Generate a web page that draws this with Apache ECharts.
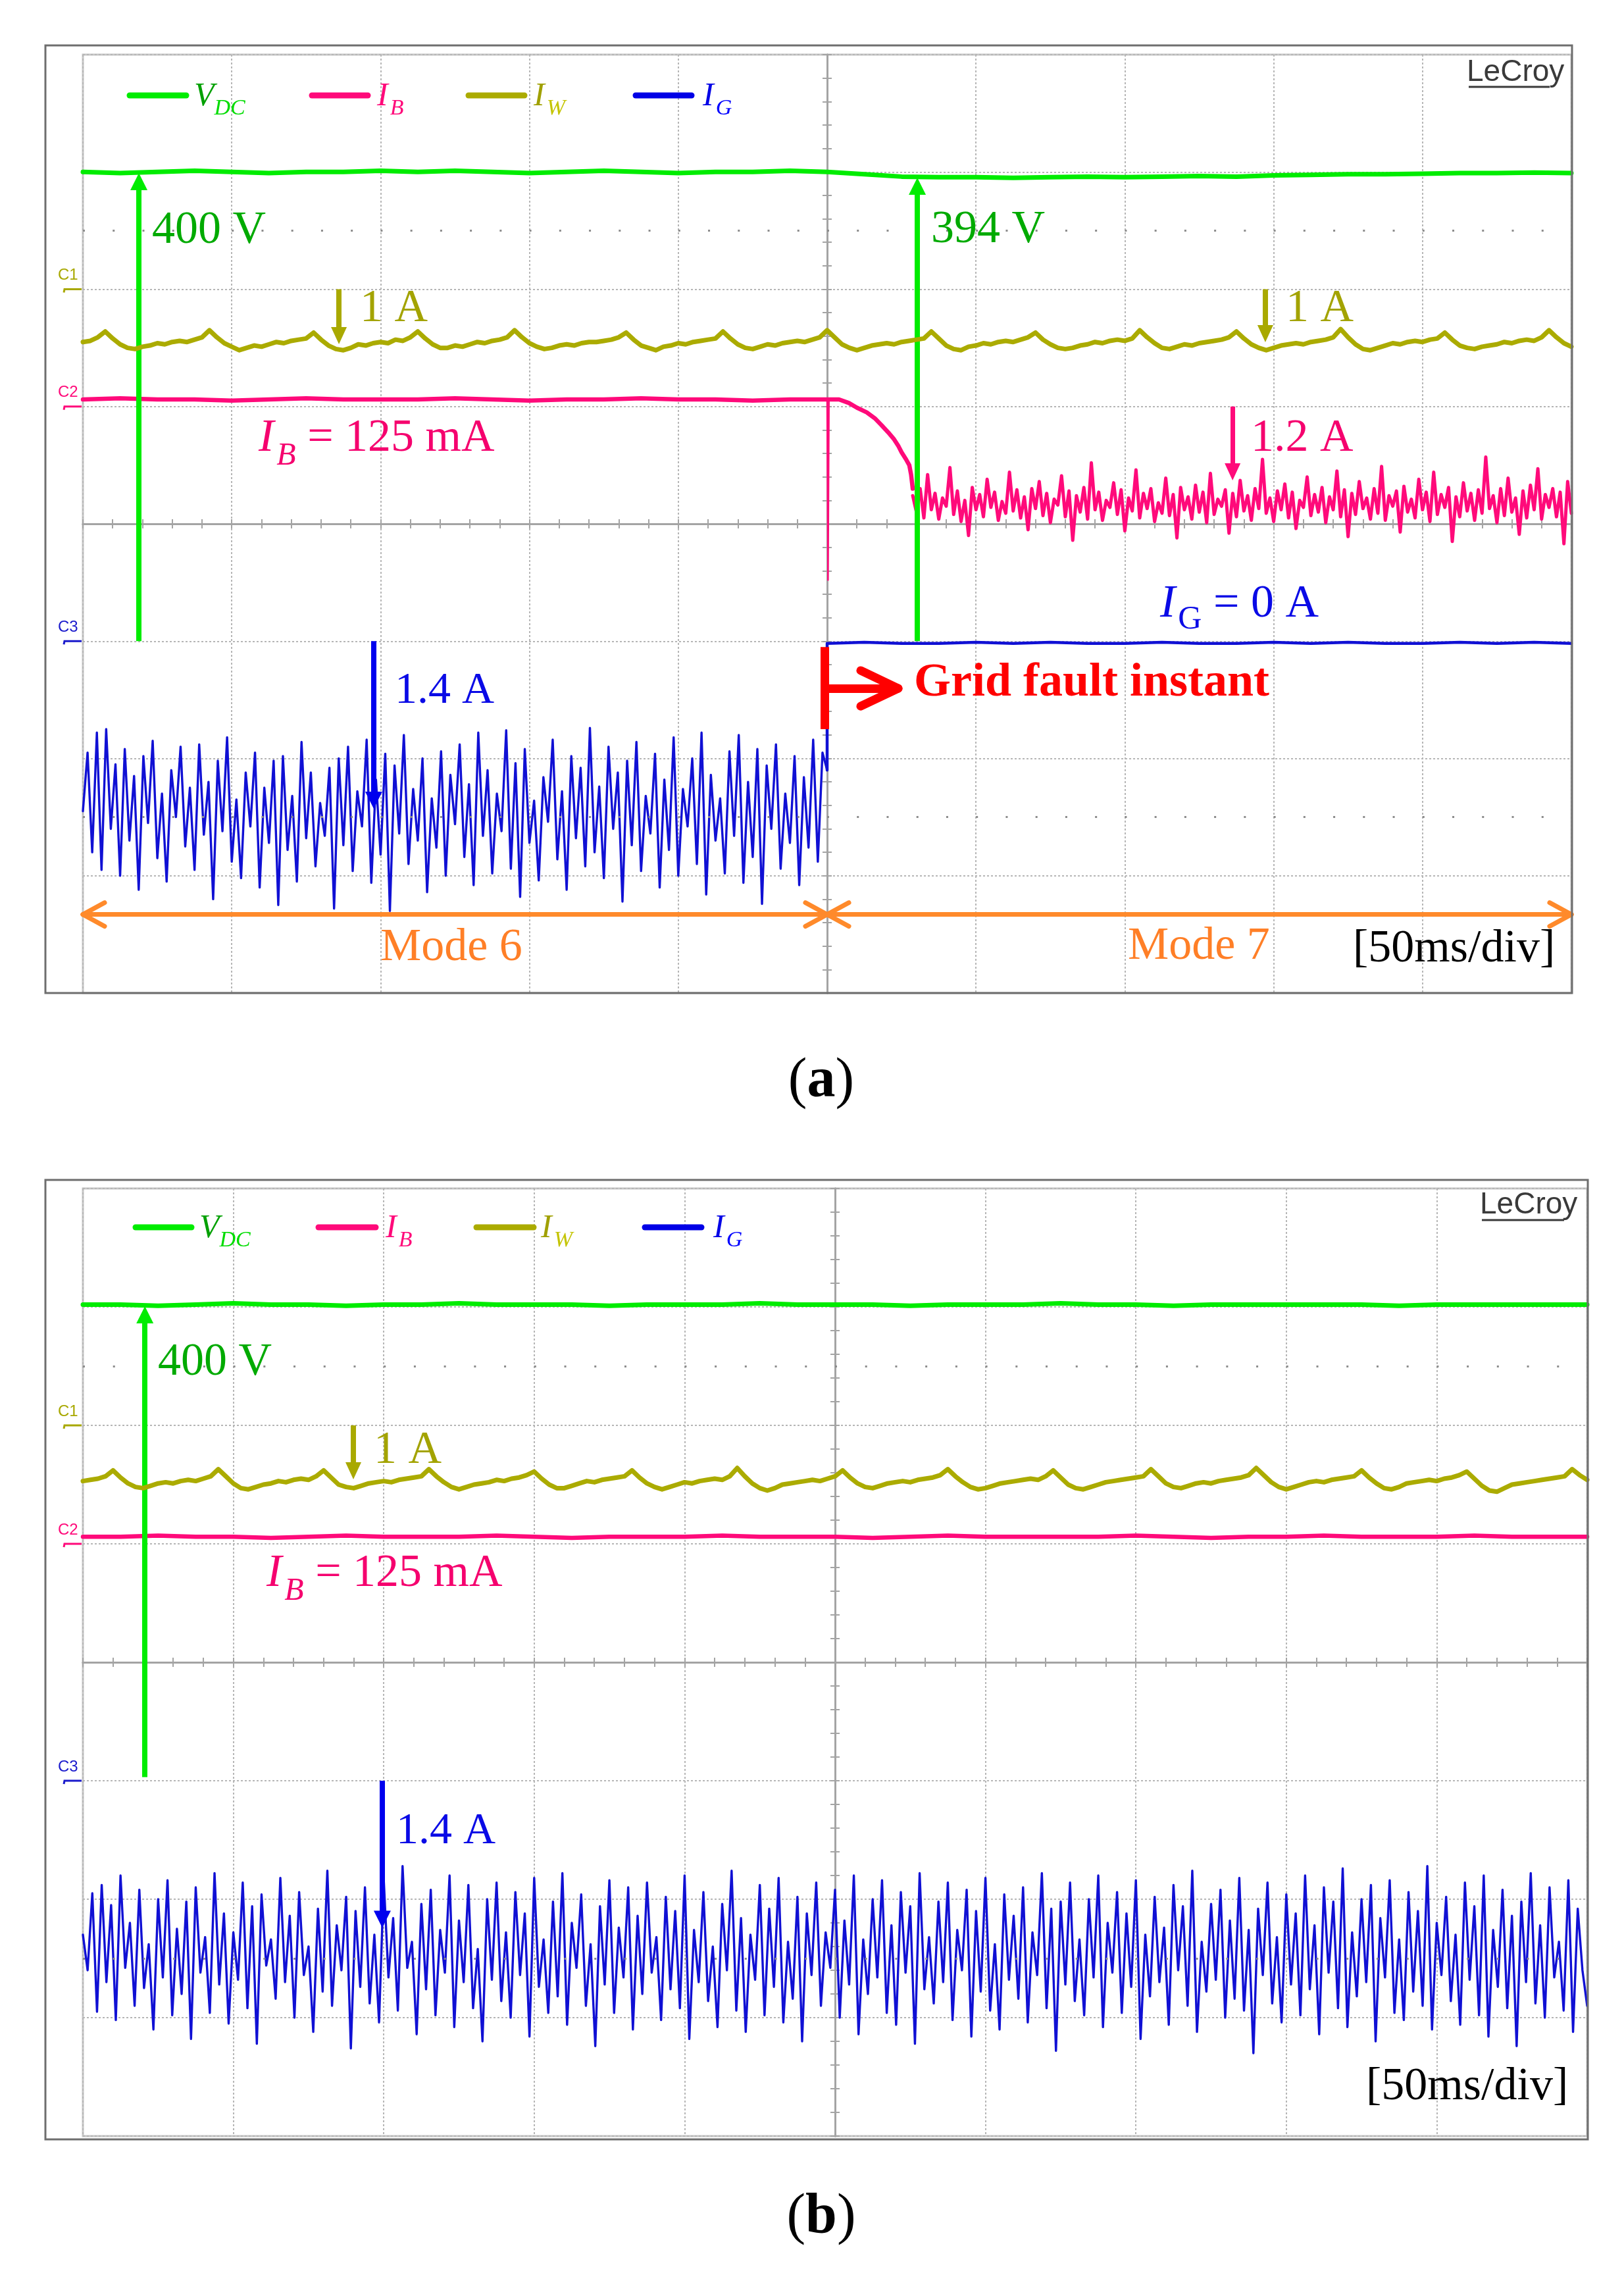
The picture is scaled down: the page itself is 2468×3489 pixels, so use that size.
<!DOCTYPE html>
<html><head><meta charset="utf-8">
<script src="https://cdn.jsdelivr.net/npm/echarts@6/dist/echarts.min.js"></script>
<style>html,body{margin:0;padding:0;background:#fff}#c{width:2468px;height:3489px}</style>
</head><body><div id="c"></div>
<script>
// ================= DATA (time in ms, amplitude in screen divisions) =================
const T_START = -250;          // left edge of screen, ms (50 ms/div, 10 div)
const DT_SLOW = 12.5;          // ms between samples for slow traces
const DT_IW = 2.5;             // ms between samples for I_W
const DT_IG = 1.5625;          // ms between samples for I_G
const DT_IBN = 1.25;           // ms between samples for I_B noise after fault
const IBA_NOISE_T0 = 28.75;    // ms, start of I_B noisy part in (a)

// ---- panel (a) ----
const vdcA = [3.00,2.99,3.00,3.01,3.00,2.99,3.00,3.00,3.01,3.00,3.01,3.00,2.99,3.00,3.01,3.00,2.99,3.00,3.00,3.01,3.00,
  2.98,2.96,2.955,2.955,2.95,2.955,2.96,2.955,2.96,2.965,2.96,2.97,2.975,2.98,2.98,2.985,2.99,2.99,2.995,2.99];

const iwA = [1.55,1.56,1.59,
  1.64,1.58,1.53,1.50,1.49,1.51,1.52,1.54,1.53,1.55,1.56,1.55,1.57,1.59,
  1.65,1.59,1.54,1.51,1.48,1.50,1.52,1.51,1.53,1.55,1.54,1.56,1.57,1.58,
  1.63,1.57,1.52,1.49,1.48,1.50,1.53,1.52,1.54,1.55,1.54,1.57,1.56,1.59,
  1.64,1.58,1.53,1.50,1.50,1.52,1.51,1.53,1.55,1.54,1.56,1.57,1.59,
  1.65,1.59,1.54,1.51,1.49,1.50,1.52,1.53,1.52,1.54,1.55,1.55,1.56,1.57,1.59,
  1.63,1.57,1.52,1.50,1.48,1.51,1.52,1.54,1.53,1.55,1.56,1.57,1.58,
  1.64,1.58,1.53,1.50,1.49,1.51,1.53,1.52,1.54,1.55,1.56,1.55,1.57,1.59,
  1.65,1.59,1.53,1.50,1.48,1.50,1.52,1.53,1.54,1.53,1.55,1.56,1.57,1.58,
  1.64,1.58,1.52,1.49,1.48,1.51,1.52,1.54,1.53,1.55,1.56,1.55,1.57,1.59,
  1.63,1.57,1.53,1.50,1.49,1.50,1.52,1.53,1.55,1.54,1.56,1.57,1.56,1.58,
  1.65,1.59,1.54,1.50,1.49,1.51,1.53,1.52,1.54,1.55,1.56,1.57,1.59,
  1.64,1.58,1.53,1.50,1.48,1.50,1.52,1.53,1.54,1.53,1.55,1.56,1.57,1.59,
  1.66,1.59,1.53,1.49,1.48,1.50,1.52,1.54,1.53,1.55,1.56,1.55,1.57,1.58,
  1.63,1.57,1.52,1.50,1.49,1.51,1.52,1.53,1.55,1.54,1.56,1.57,1.56,1.59,
  1.65,1.59,1.54,1.51];

const ibA_pre = [1.06,1.07,1.06,1.06,1.05,1.06,1.07,1.06,1.06,1.06,1.07,1.06,1.05,1.06,1.06,1.07,1.06,1.06,1.05,1.06,1.06];
const ibA_fall = [[4,1.06],[7.3,1.03],[10,0.99],[13.3,0.95],[16,0.90],[18.3,0.84],[20.5,0.78],[22.5,0.72],[24,0.66],[25,0.61],[26.5,0.55],[27.6,0.50],[28.2,0.42],[28.75,0.30]];
const ibA_spike = [[0,1.06],[0.3,-0.48],[0.6,1.05]];
const ibA_noise = [
  0.24,0.10,0.30,0.05,0.42,0.12,0.26,0.04,0.22,0.15,
  0.48,0.08,0.28,0.02,0.20,-0.10,0.31,0.12,0.25,0.06,
  0.38,0.14,0.27,0.03,0.19,0.09,0.44,0.11,0.29,0.05,
  0.23,-0.05,0.30,0.13,0.36,0.07,0.26,0.01,0.21,0.16,
  0.41,0.06,0.28,-0.14,0.24,0.10,0.31,0.04,0.52,0.12,
  0.27,0.03,0.20,0.14,0.35,0.08,0.29,-0.06,0.22,0.11,
  0.46,0.05,0.26,0.13,0.30,0.02,0.18,0.09,0.39,0.07,
  0.25,-0.12,0.31,0.12,0.23,0.04,0.33,0.10,0.27,0.01,
  0.43,0.08,0.21,0.15,0.29,-0.08,0.26,0.06,0.37,0.11,
  0.24,0.03,0.30,0.13,0.55,0.09,0.22,0.02,0.28,0.12,
  0.34,0.05,0.27,-0.04,0.20,0.14,0.40,0.07,0.25,0.10,
  0.31,0.01,0.23,0.12,0.45,0.06,0.29,-0.11,0.26,0.08,
  0.36,0.13,0.22,0.04,0.30,0.09,0.49,0.03,0.24,0.15,
  0.28,-0.07,0.32,0.10,0.21,0.05,0.38,0.12,0.27,0.02,
  0.44,0.08,0.25,0.14,0.31,-0.15,0.23,0.06,0.35,0.11,
  0.26,0.03,0.29,0.09,0.57,0.13,0.24,0.01,0.30,0.07,
  0.39,0.10,0.22,-0.09,0.28,0.05,0.33,0.12,0.47,0.04,
  0.25,0.14,0.30,0.06,0.27,-0.17,0.36,0.09];

const igA_pre = [
  -2.45,-1.95,-2.80,-1.78,-2.95,-1.75,-2.60,-2.05,-3.00,-1.92,
  -2.70,-2.15,-3.12,-1.98,-2.55,-1.85,-2.85,-2.30,-3.05,-2.10,
  -2.50,-1.90,-2.75,-2.25,-2.95,-1.88,-2.65,-2.20,-3.20,-2.02,
  -2.62,-1.82,-2.88,-2.35,-3.02,-2.12,-2.58,-1.95,-3.10,-2.25,
  -2.72,-2.02,-3.25,-1.98,-2.78,-2.32,-3.05,-1.86,-2.68,-2.12,
  -2.92,-2.38,-2.66,-2.08,-3.28,-2.00,-2.74,-1.90,-2.96,-2.28,
  -2.58,-1.84,-3.06,-2.18,-2.82,-1.96,-3.30,-2.06,-2.64,-1.80,
  -2.90,-2.26,-2.70,-2.00,-3.14,-2.34,-2.76,-1.94,-3.00,-2.14,
  -2.56,-1.88,-2.84,-2.22,-3.08,-1.78,-2.66,-2.10,-2.98,-2.30,
  -2.62,-1.76,-2.94,-2.04,-3.18,-1.92,-2.72,-2.36,-3.04,-2.16,
  -2.54,-1.84,-2.86,-2.28,-3.12,-1.98,-2.68,-2.08,-2.92,-1.74,
  -2.80,-2.24,-3.02,-1.90,-2.60,-2.12,-3.22,-2.02,-2.74,-1.86,
  -2.96,-2.32,-2.64,-1.96,-3.10,-2.18,-2.78,-1.82,-3.00,-2.26,
  -2.58,-2.00,-2.90,-1.78,-3.16,-2.14,-2.70,-2.34,-2.98,-1.94,
  -2.66,-1.80,-3.06,-2.20,-2.84,-1.92,-3.24,-2.06,-2.60,-1.88,
  -2.94,-2.30,-2.72,-1.98,-3.08,-2.16,-2.76,-1.84,-2.88,-1.95,
  -2.10];
const igA_post = [-1.02,-1.01,-1.02,-1.02,-1.01,-1.02,-1.01,-1.02,-1.02,-1.01,-1.02,-1.02,-1.01,-1.02,-1.01,-1.02,-1.02,-1.01,-1.02,-1.01,-1.02];

// ---- panel (b) ----
const vdcB = [3.02,3.02,3.01,3.02,3.03,3.02,3.02,3.01,3.02,3.02,3.03,3.02,3.02,3.02,3.01,3.02,3.02,3.02,3.03,3.02,
  3.02,3.02,3.01,3.02,3.02,3.02,3.03,3.02,3.02,3.01,3.02,3.02,3.02,3.02,3.02,3.01,3.02,3.02,3.02,3.02,3.02];

const iwB = [1.53,1.54,1.55,1.57,
  1.62,1.56,1.51,1.48,1.47,1.49,1.51,1.52,1.51,1.53,1.54,1.53,1.55,1.57,
  1.63,1.57,1.51,1.47,1.46,1.48,1.50,1.51,1.53,1.52,1.54,1.55,1.54,1.57,
  1.62,1.56,1.50,1.48,1.47,1.49,1.51,1.52,1.53,1.52,1.54,1.55,1.56,1.57,
  1.63,1.57,1.52,1.48,1.46,1.48,1.50,1.51,1.52,1.54,1.53,1.55,1.56,1.58,
  1.61,1.55,1.50,1.47,1.47,1.49,1.51,1.53,1.52,1.54,1.55,1.56,1.57,
  1.62,1.56,1.51,1.48,1.46,1.48,1.50,1.52,1.51,1.53,1.54,1.55,1.54,1.57,
  1.64,1.57,1.51,1.47,1.45,1.47,1.50,1.51,1.52,1.53,1.54,1.53,1.55,1.57,
  1.62,1.56,1.51,1.48,1.47,1.49,1.51,1.52,1.53,1.52,1.54,1.55,1.56,1.58,
  1.63,1.57,1.52,1.48,1.46,1.47,1.49,1.51,1.52,1.53,1.54,1.55,1.54,1.57,
  1.62,1.56,1.50,1.47,1.46,1.48,1.50,1.52,1.53,1.54,1.55,1.56,1.57,
  1.63,1.57,1.51,1.48,1.47,1.49,1.51,1.52,1.51,1.53,1.54,1.55,1.56,1.58,
  1.64,1.58,1.52,1.48,1.46,1.48,1.50,1.52,1.53,1.52,1.54,1.55,1.56,1.57,
  1.62,1.56,1.51,1.47,1.46,1.48,1.51,1.52,1.53,1.54,1.53,1.55,1.56,1.58,
  1.61,1.55,1.49,1.45,1.44,1.47,1.50,1.51,1.52,1.53,1.54,1.55,1.56,1.57,
  1.63,1.58,1.54];

const ibB = [1.06,1.06,1.07,1.06,1.06,1.05,1.06,1.07,1.06,1.06,1.06,1.07,1.06,1.05,1.06,1.06,1.06,1.07,1.06,1.06,
  1.06,1.05,1.06,1.07,1.06,1.06,1.06,1.06,1.07,1.06,1.05,1.06,1.06,1.07,1.06,1.06,1.06,1.07,1.06,1.06,1.06];

const igB = [
  -2.30,-2.60,-1.95,-2.95,-1.88,-2.70,-2.05,-3.02,-1.80,-2.58,
  -2.20,-2.90,-1.92,-2.75,-2.38,-3.10,-2.00,-2.66,-1.84,-2.98,
  -2.25,-2.80,-2.02,-3.18,-1.90,-2.62,-2.32,-2.96,-1.78,-2.72,
  -2.12,-3.05,-2.28,-2.68,-1.86,-2.92,-2.06,-3.22,-1.96,-2.56,
  -2.34,-2.84,-1.82,-2.70,-2.14,-3.00,-1.94,-2.64,-2.40,-3.12,
  -2.08,-2.78,-1.76,-2.90,-2.22,-2.60,-1.98,-3.26,-2.10,-2.74,
  -1.90,-2.88,-2.30,-3.04,-1.84,-2.66,-2.16,-2.94,-1.72,-2.58,
  -2.36,-3.14,-2.04,-2.76,-1.92,-2.98,-2.26,-2.62,-1.80,-3.08,
  -2.18,-2.70,-1.88,-2.92,-2.42,-3.20,-2.00,-2.68,-1.86,-2.86,
  -2.28,-3.00,-1.94,-2.64,-2.12,-3.16,-1.82,-2.74,-2.34,-2.96,
  -2.02,-2.82,-1.78,-3.06,-2.20,-2.58,-1.96,-2.90,-2.38,-3.24,
  -2.06,-2.72,-1.84,-2.96,-2.24,-2.66,-1.90,-3.10,-2.14,-2.80,
  -1.86,-2.62,-2.32,-3.02,-1.98,-2.76,-2.10,-2.92,-1.80,-3.18,
  -2.26,-2.70,-1.94,-2.86,-2.40,-3.08,-2.04,-2.60,-1.76,-2.94,
  -2.16,-3.12,-2.30,-2.68,-1.88,-2.98,-2.08,-2.74,-1.82,-3.04,
  -2.36,-2.84,-1.98,-3.20,-2.12,-2.64,-1.86,-2.90,-2.28,-2.58,
  -1.92,-3.00,-2.18,-2.72,-1.80,-3.14,-2.34,-2.80,-2.00,-2.66,
  -1.84,-2.96,-2.22,-3.06,-1.94,-2.62,-2.06,-3.22,-1.78,-2.76,
  -2.32,-2.88,-2.02,-2.70,-1.86,-3.02,-2.26,-2.60,-1.92,-3.16,
  -2.10,-2.78,-1.82,-2.94,-2.38,-3.10,-1.96,-2.68,-2.14,-2.84,
  -1.90,-3.04,-2.28,-2.64,-1.78,-2.92,-2.08,-3.28,-2.02,-2.72,
  -1.86,-2.86,-2.34,-2.98,-2.00,-2.66,-1.80,-3.08,-2.20,-2.62,
  -1.94,-2.96,-2.12,-2.74,-1.84,-3.18,-2.30,-2.82,-1.98,-2.70,
  -2.24,-3.06,-1.88,-2.60,-2.06,-2.90,-1.76,-3.12,-2.36,-2.78,
  -2.04,-2.68,-1.92,-3.00,-2.18,-2.84,-1.82,-2.94,-2.26,-3.30,
  -2.08,-2.64,-1.86,-2.88,-2.32,-3.04,-1.96,-2.72,-2.12,-2.98,
  -1.80,-2.76,-2.22,-3.14,-1.90,-2.62,-2.02,-2.92,-1.74,-3.08,
  -2.28,-2.82,-2.00,-2.70,-1.88,-3.20,-2.16,-2.66,-1.84,-2.96,
  -2.34,-3.02,-1.94,-2.78,-2.10,-2.90,-1.72,-3.10,-2.20,-2.64,
  -1.98,-2.86,-2.30,-3.06,-1.86,-2.68,-2.06,-2.98,-1.80,-3.16,
  -2.26,-2.74,-1.92,-2.92,-2.14,-3.24,-2.02,-2.70,-1.78,-2.88,
  -2.22,-3.00,-1.90,-2.66,-2.36,-2.94,-1.84,-3.12,-2.08,-2.60,
  -2.90];

// ================= STYLE =================
const SERIF = 'Liberation Serif';
const SANS = 'Liberation Sans';
const C_G = '#00ec00', C_P = '#ff0a7a', C_Y = '#abab00', C_B = '#1010d4', C_O = '#ff8a2b', C_R = '#ff0000';
const AXC = '#a4a4a4', GRC = '#b6b6b6';

const toXY = (arr, t0, dt) => arr.map((v, i) => [t0 + i * dt, v]);

const chart = echarts.init(document.getElementById('c'), null, {renderer: 'canvas', width: 2468, height: 3489});

const grids = [
  {left: 126, top: 83, width: 2262, height: 1426},
  {left: 126, top: 1806, width: 2286, height: 1440}
];

function makeX(gi) {
  const base = {gridIndex: gi, type: 'value', min: -250, max: 250, interval: 50, axisLabel: {show: false}, silent: true};
  const tick = {show: true, length: 7, lineStyle: {color: AXC, width: 2}};
  const minor = {show: true, splitNumber: 5, length: 7, lineStyle: {color: AXC, width: 2}};
  return [
    Object.assign({}, base, {position: 'bottom', axisLine: {show: true, onZero: true, onZeroAxisIndex: gi * 2, lineStyle: {color: AXC, width: 3}},
      axisTick: tick, minorTick: minor, splitLine: {show: true, lineStyle: {color: GRC, width: 2, type: [3, 3]}}}),
    Object.assign({}, base, {position: 'top', axisLine: {show: true, onZero: true, onZeroAxisIndex: gi * 2 + 1, lineStyle: {color: AXC, width: 3}},
      axisTick: tick, minorTick: minor, splitLine: {show: false}})
  ];
}
function makeY(gi) {
  const base = {gridIndex: gi, type: 'value', min: -4, max: 4, interval: 1, axisLabel: {show: false}, silent: true};
  const tick = {show: true, length: 7, lineStyle: {color: AXC, width: 2}};
  const minor = {show: true, splitNumber: 5, length: 7, lineStyle: {color: AXC, width: 2}};
  return [
    Object.assign({}, base, {position: 'left', axisLine: {show: true, onZero: true, onZeroAxisIndex: gi * 2, lineStyle: {color: AXC, width: 3}},
      axisTick: tick, minorTick: minor, splitLine: {show: true, lineStyle: {color: GRC, width: 2, type: [3, 3]}}}),
    Object.assign({}, base, {position: 'right', axisLine: {show: true, onZero: true, onZeroAxisIndex: gi * 2 + 1, lineStyle: {color: AXC, width: 3}},
      axisTick: tick, minorTick: minor, splitLine: {show: false}})
  ];
}

function trace(name, gi, data, color, width, z) {
  return {type: 'line', name, xAxisIndex: gi * 2, yAxisIndex: gi * 2, data, symbol: 'none', showSymbol: false,
    lineStyle: {color, width, join: 'round', cap: 'round'}, itemStyle: {color}, z: z || 2, silent: true, animation: false};
}

// annotation helpers (coordinates in ms / divisions, placed through the axes)
function vArrow(x, y0, y1, color, width, head) {
  const ls = {color, width, type: 'solid', cap: 'butt'};
  return [{coord: [x, y0], symbol: 'none', lineStyle: ls, itemStyle: {color}},
          {coord: [x, y1], symbol: 'triangle', symbolSize: head, lineStyle: ls, itemStyle: {color}}];
}
function seg(p0, p1, color, width, cap) {
  const ls = {color, width, type: 'solid', cap: cap || 'round'};
  return [{coord: p0, symbol: 'none', lineStyle: ls, itemStyle: {color}}, {coord: p1, symbol: 'none', lineStyle: ls, itemStyle: {color}}];
}
function chevron(tip, dir, dx, dy, color, width) { // dir: +1 points right, -1 points left
  return [seg(tip, [tip[0] - dir * dx, tip[1] + dy], color, width), seg(tip, [tip[0] - dir * dx, tip[1] - dy], color, width)];
}
function dotRow(y, gap) {
  return {yAxis: y, symbol: 'none', lineStyle: {color: '#8c8c8c', width: 3, type: [3, gap]}};
}

const annA = [
  dotRow(2.5, 42.24), dotRow(-2.5, 42.24),
  vArrow(-231.2, -1.0, 2.917, C_G, 8, [26, 26]),
  vArrow(30.3, -1.0, 2.878, C_G, 8, [26, 26]),
  vArrow(-164.0, 2.0, 1.604, '#a9a900', 8, [24, 26]),
  vArrow(147.2, 2.0, 1.621, '#a9a900', 8, [24, 26]),
  vArrow(136.2, 1.0, 0.443, C_P, 7, [24, 26]),
  vArrow(-152.3, -1.0, -2.356, '#0000ee', 8, [26, 26]),
  seg([-0.77, -1.05], [-0.77, -1.75], C_R, 13, 'butt'),
  seg([-0.77, -1.403], [22.5, -1.403], C_R, 13, 'butt'),
  ...chevron([23.87, -1.403], 1, 12.6, 0.152, C_R, 13),
  seg([-250, -3.33], [0, -3.33], C_O, 7),
  seg([0, -3.33], [250, -3.33], C_O, 7),
  ...chevron([-250, -3.33], -1, 7.3, 0.101, C_O, 7),
  ...chevron([0, -3.33], 1, 7.3, 0.101, C_O, 7),
  ...chevron([0, -3.33], -1, 7.3, 0.101, C_O, 7),
  ...chevron([250, -3.33], 1, 7.3, 0.101, C_O, 7)
];
const annB = [
  dotRow(2.5, 42.72), dotRow(-2.5, 42.72),
  vArrow(-229.4, -0.97, 2.933, C_G, 8, [26, 26]),
  vArrow(-160.1, 2.0, 1.617, '#a9a900', 8, [24, 26]),
  vArrow(-150.5, -1.0, -2.17, '#0000ee', 8, [26, 26])
];
function annSeries(gi, data) {
  return {type: 'line', xAxisIndex: gi * 2, yAxisIndex: gi * 2, data: [], symbol: 'none', z: 20, silent: true,
    markLine: {silent: true, symbol: ['none', 'none'], label: {show: false}, emphasis: {disabled: true}, animation: false, data}};
}

const igA_preXY = toXY(igA_pre, T_START, DT_IG);
const option = {
  animation: false,
  backgroundColor: '#ffffff',
  grid: grids.map(g => Object.assign({show: true, borderColor: '#c6c6c6', borderWidth: 3, backgroundColor: '#ffffff', outerBoundsMode: 'none'}, g)),
  xAxis: [...makeX(0), ...makeX(1)],
  yAxis: [...makeY(0), ...makeY(1)],
  series: [
    // panel (a)
    trace('I_G', 0, igA_preXY, C_B, 3.4, 3),
    trace('I_G', 0, [igA_preXY[igA_preXY.length - 1]].concat(toXY(igA_post, 0, DT_SLOW)), C_B, 4.5, 3),
    trace('I_B', 0, toXY(ibA_pre, T_START, DT_SLOW).concat(ibA_fall), C_P, 6.5, 4),
    trace('I_B', 0, ibA_spike, C_P, 2.5, 4),
    trace('I_B', 0, toXY(ibA_noise, IBA_NOISE_T0, DT_IBN), C_P, 5, 4),
    trace('I_W', 0, toXY(iwA, T_START, DT_IW), C_Y, 7, 5),
    trace('V_DC', 0, toXY(vdcA, T_START, DT_SLOW), C_G, 7, 6),
    annSeries(0, annA),
    // panel (b)
    trace('I_G', 1, toXY(igB, T_START, DT_IG), C_B, 3.4, 3),
    trace('I_B', 1, toXY(ibB, T_START, DT_SLOW), C_P, 6.5, 4),
    trace('I_W', 1, toXY(iwB, T_START, DT_IW), C_Y, 7, 5),
    trace('V_DC', 1, toXY(vdcB, T_START, DT_SLOW), C_G, 7, 6),
    annSeries(1, annB)
  ]
};
chart.setOption(option);

// ================= TEXT / FRAME OVERLAY =================
const mctx = document.createElement('canvas').getContext('2d');
function fontOf(r) { return (r.italic ? 'italic ' : '') + (r.bold ? 'bold ' : '') + r.size + 'px "' + (r.family || SERIF) + '"'; }
function tw(r) { mctx.font = fontOf(r); return mctx.measureText(r.text).width; }
const G = [];
function textEl(x, y, r) {
  return {type: 'text', x, y, silent: true, z: 100, style: {text: r.text, fill: r.color, fontSize: r.size, fontFamily: r.family || SERIF,
    fontStyle: r.italic ? 'italic' : 'normal', fontWeight: r.bold ? 'bold' : 'normal', align: 'left', verticalAlign: 'middle'}};
}
function runs(x, y, list) {
  let cx = x;
  list.forEach(r => { cx += (r.dx || 0); G.push(textEl(cx, y + (r.dy || 0), r)); cx += tw(r); });
}
function lineEl(x1, y1, x2, y2, color, w, cap) {
  G.push({type: 'line', silent: true, z: 90, shape: {x1, y1, x2, y2}, style: {stroke: color, lineWidth: w, lineCap: cap || 'butt'}});
}

// outer frames
G.push({type: 'rect', silent: true, z: 95, shape: {x: 69, y: 69, width: 2320, height: 1440}, style: {fill: 'transparent', stroke: '#6e6e6e', lineWidth: 3}});
G.push({type: 'rect', silent: true, z: 95, shape: {x: 69, y: 1793, width: 2344, height: 1458}, style: {fill: 'transparent', stroke: '#6e6e6e', lineWidth: 3}});

// legends
function legend(y, xs, tx) {
  const items = [
    {c: C_G, main: {text: 'V', color: '#00a000'}, sub: {text: 'DC', color: '#00dc00'}},
    {c: C_P, main: {text: 'I', color: C_P}, sub: {text: 'B', color: C_P, dx: 3}},
    {c: C_Y, main: {text: 'I', color: '#a0a000'}, sub: {text: 'W', color: '#c4c400', dx: 3}},
    {c: '#0000e6', main: {text: 'I', color: '#0000e6'}, sub: {text: 'G', color: '#0000ff', dx: 3}}
  ];
  items.forEach((it, i) => {
    lineEl(xs[i][0], y, xs[i][1], y, it.c, 9, 'round');
    runs(tx[i], y + 2, [Object.assign({size: 50, italic: true}, it.main), Object.assign({size: 34, italic: true, dy: 18}, it.sub)]);
  });
}
legend(145, [[197, 283], [474, 559], [712, 797], [966, 1051]], [295, 573, 811, 1068]);
legend(1865, [[206, 291], [484, 571], [724, 811], [980, 1066]], [303, 586, 822, 1084]);

// LeCroy marks
runs(2229, 110, [{text: 'LeCroy', size: 46, family: SANS, color: '#3a3a3a'}]);
lineEl(2232, 132, 2355, 132, '#3a3a3a', 3);
runs(2249, 1831, [{text: 'LeCroy', size: 46, family: SANS, color: '#3a3a3a'}]);
lineEl(2252, 1854, 2377, 1854, '#3a3a3a', 3);

// channel ground markers
[0, 1].forEach(gi => {
  [['C1', 2, '#a8a800'], ['C2', 1, C_P], ['C3', -1, '#1a1acc']].forEach(([nm, lv, col]) => {
    const py = chart.convertToPixel({yAxisIndex: gi * 2}, lv);
    runs(88, py - 21, [{text: nm, size: 24, family: SANS, color: col}]);
    G.push({type: 'polyline', silent: true, z: 90, shape: {points: [[97, py + 5], [98, py], [124, py]]}, style: {stroke: col, lineWidth: 3, fill: null}});
  });
});

// panel (a) annotations
const GREEN_T = '#00aa00', OLIVE_T = '#a3a300', PINK_T = '#f5006e', BLUE_T = '#0a0ae6', ORANGE_T = '#ff7f27';
runs(231, 351, [{text: '400 V', size: 70, color: GREEN_T}]);
runs(1415, 350, [{text: '394 V', size: 70, color: GREEN_T}]);
runs(547, 470, [{text: '1 A', size: 70, color: OLIVE_T}]);
runs(1954, 470, [{text: '1 A', size: 70, color: OLIVE_T}]);
runs(393, 667, [{text: 'I', size: 70, italic: true, color: PINK_T}, {text: 'B', size: 48, italic: true, color: PINK_T, dx: 4, dy: 26}, {text: ' = 125 mA', size: 70, color: PINK_T}]);
runs(1901, 667, [{text: '1.2 A', size: 70, color: PINK_T}]);
runs(1763, 919, [{text: 'I', size: 70, italic: true, color: BLUE_T}, {text: 'G', size: 50, color: BLUE_T, dx: 4, dy: 23}, {text: ' = 0 A', size: 70, color: BLUE_T}]);
runs(600, 1050, [{text: '1.4 A', size: 68, color: BLUE_T}]);
runs(1389, 1038, [{text: 'Grid fault instant', size: 72, bold: true, color: '#ff0000'}]);
runs(578, 1441, [{text: 'Mode 6', size: 70, color: ORANGE_T}]);
runs(1714, 1439, [{text: 'Mode 7', size: 70, color: ORANGE_T}]);
runs(2056, 1443, [{text: '[50ms/div]', size: 70, color: '#000000'}]);

// panel (b) annotations
runs(240, 2071, [{text: '400 V', size: 70, color: GREEN_T}]);
runs(568, 2205, [{text: '1 A', size: 70, color: OLIVE_T}]);
runs(405, 2392, [{text: 'I', size: 70, italic: true, color: PINK_T}, {text: 'B', size: 48, italic: true, color: PINK_T, dx: 4, dy: 26}, {text: ' = 125 mA', size: 70, color: PINK_T}]);
runs(602, 2783, [{text: '1.4 A', size: 68, color: BLUE_T}]);
runs(2076, 3172, [{text: '[50ms/div]', size: 70, color: '#000000'}]);

// captions
function caption(cx, y, letter) {
  const parts = [{text: '(', size: 86, color: '#000'}, {text: letter, size: 86, bold: true, color: '#000'}, {text: ')', size: 86, color: '#000'}];
  const w = parts.reduce((s, r) => s + tw(r), 0);
  runs(cx - w / 2, y, parts);
}
caption(1248, 1644, 'a');
caption(1248, 3370, 'b');

chart.setOption({graphic: {elements: G}});
</script></body></html>
